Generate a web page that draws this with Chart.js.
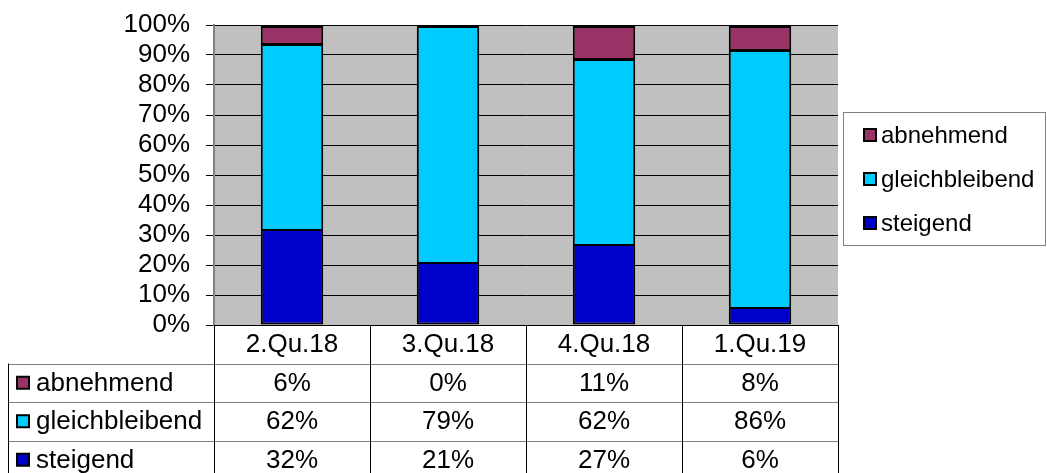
<!DOCTYPE html>
<html>
<head>
<meta charset="utf-8">
<script src="https://cdn.jsdelivr.net/npm/chart.js@4"></script>
<style>
  html, body { margin: 0; padding: 0; background: #fff; }
  #wrap { width: 1047px; height: 473px; position: relative; }
</style>
</head>
<body>
<div id="wrap"><canvas id="quarter-chart"></canvas></div>
<script>
const quarters = ['2.Qu.18', '3.Qu.18', '4.Qu.18', '1.Qu.19'];
const steigend = [32, 21, 27, 6];
const gleichbleibend = [62, 79, 62, 86];
const abnehmend = [6, 0, 11, 8];

const FONT = '"Liberation Sans", Arial, sans-serif';

// gray plot background
const plotBg = {
  id: 'plotBg',
  beforeDraw: chart => {
    const { ctx, chartArea: a } = chart;
    ctx.save();
    ctx.fillStyle = '#c0c0c0';
    ctx.fillRect(a.left, a.top, a.right - a.left, a.bottom - a.top);
    ctx.restore();
  }
};

const drawKey = (ctx, x, y, color) => {
  ctx.fillStyle = color;
  ctx.fillRect(x, y - 6, 12, 12);
  ctx.strokeStyle = '#000';
  ctx.lineWidth = 2;
  ctx.strokeRect(x, y - 6, 12, 12);
};

// data table below the plot + legend box on the right
const tableAndLegend = {
  id: 'tableAndLegend',
  afterDraw: chart => {
    const { ctx, chartArea: a, scales } = chart;
    const xs = scales.x;
    const colW = (a.right - a.left) / quarters.length;
    const rowH = 38.5;
    const top = a.bottom;
    const rows = [...chart.data.datasets].reverse();
    ctx.save();

    // horizontal lines
    ctx.strokeStyle = '#808080';
    ctx.lineWidth = 1;
    for (let r = 1; r <= rows.length; r++) {
      const y = Math.round(top + r * rowH) + 0.5;
      ctx.beginPath();
      ctx.moveTo(8, y);
      ctx.lineTo(a.right, y);
      ctx.stroke();
    }
    // vertical lines
    ctx.strokeStyle = '#000';
    ctx.beginPath();
    ctx.moveTo(8.5, top + rowH);
    ctx.lineTo(8.5, 473);
    for (let i = 0; i <= quarters.length; i++) {
      const x = Math.round(a.left + i * colW) + 0.5;
      ctx.moveTo(x, top);
      ctx.lineTo(x, 473);
    }
    ctx.stroke();

    ctx.fillStyle = '#000';
    ctx.font = '26px ' + FONT;
    ctx.textBaseline = 'middle';
    ctx.textAlign = 'center';
    quarters.forEach((q, i) => {
      ctx.fillText(q, xs.getPixelForValue(i), top + rowH / 2 + 1);
    });
    rows.forEach((ds, r) => {
      const cy = top + rowH * (r + 1.5);
      drawKey(ctx, 17, cy, ds.backgroundColor);
      ctx.fillStyle = '#000';
      ctx.textAlign = 'left';
      ctx.fillText(ds.label, 36, cy + 1);
      ctx.textAlign = 'center';
      ds.data.forEach((v, i) => {
        ctx.fillText(v + '%', xs.getPixelForValue(i), cy + 1);
      });
    });

    // legend
    ctx.strokeStyle = '#808080';
    ctx.lineWidth = 1;
    ctx.strokeRect(843.5, 112.5, 202, 133);
    ctx.font = '24px ' + FONT;
    rows.forEach((ds, r) => {
      const cy = 135 + r * 44;
      drawKey(ctx, 864, cy, ds.backgroundColor);
      ctx.fillStyle = '#000';
      ctx.textAlign = 'left';
      ctx.fillText(ds.label, 881, cy + 1);
    });
    ctx.restore();
  }
};

const barStyle = { borderColor: '#000' };

new Chart(document.getElementById('quarter-chart'), {
  type: 'bar',
  data: {
    labels: quarters,
    datasets: [
      { label: 'steigend', data: steigend, backgroundColor: '#0000cc', borderWidth: 2, borderSkipped: false, ...barStyle },
      { label: 'gleichbleibend', data: gleichbleibend, backgroundColor: '#00ccff', borderWidth: { top: 3, left: 2, right: 2, bottom: 0 }, borderSkipped: 'bottom', ...barStyle },
      { label: 'abnehmend', data: abnehmend, backgroundColor: '#993366', borderWidth: { top: 3, left: 2, right: 2, bottom: 0 }, borderSkipped: 'bottom', ...barStyle },
    ]
  },
  options: {
    responsive: true,
    maintainAspectRatio: false,
    animation: false,
    layout: { padding: { top: 25, right: 209, bottom: 148, left: 0 } },
    categoryPercentage: 0.4,
    barPercentage: 1,
    plugins: { legend: { display: false }, tooltip: { enabled: false } },
    scales: {
      x: { stacked: true, display: false },
      y: {
        stacked: true,
        min: 0,
        max: 100,
        afterFit: scale => {
          scale.width = 214;
          scale.paddingTop = 0;
          scale.paddingBottom = 0;
        },
        ticks: {
          stepSize: 10,
          autoSkip: false,
          color: '#000',
          font: { family: FONT, size: 26 },
          padding: 16,
          callback: v => v + '%'
        },
        grid: { color: '#000', tickLength: 8, tickColor: '#000' },
        border: { color: '#808080', width: 2 }
      }
    }
  },
  plugins: [plotBg, tableAndLegend]
});
</script>
</body>
</html>
